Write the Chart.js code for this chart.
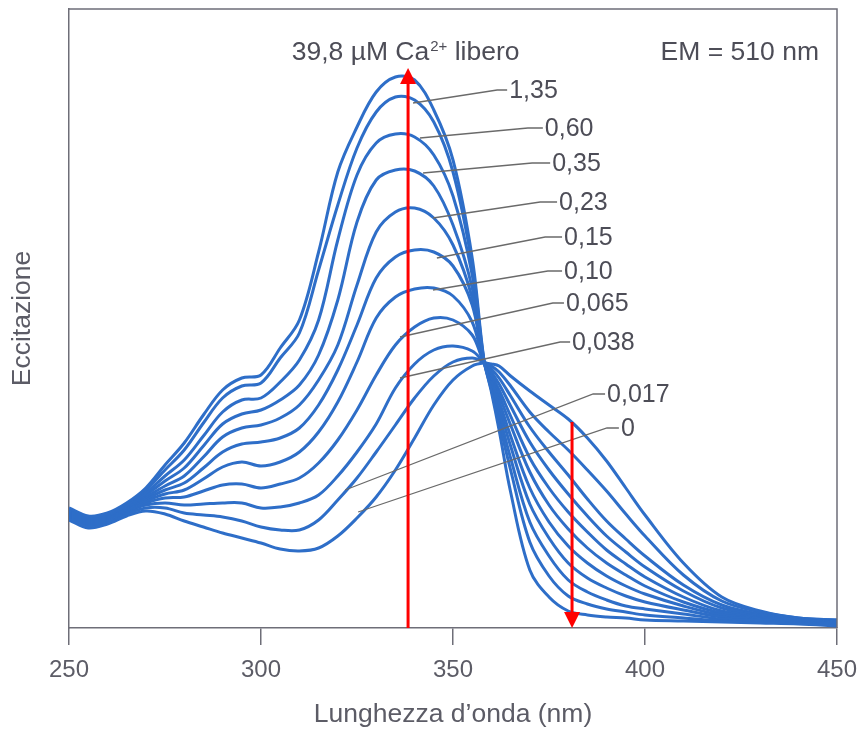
<!DOCTYPE html>
<html>
<head>
<meta charset="utf-8">
<script src="https://cdn.jsdelivr.net/npm/chart.js@4.4.1/dist/chart.umd.min.js"></script>
<style>
  html, body { margin: 0; padding: 0; background: #fff; }
  canvas { display: block; }
</style>
</head>
<body>
<canvas id="c" width="860" height="730"></canvas>
<script>
// DATA (excitation, arbitrary units)
const wavelengths = [250, 255, 260, 265, 270, 275, 280, 285, 290, 295, 300, 305, 310, 315, 320, 325, 330, 335, 340, 345, 350, 355, 358, 360, 362, 365, 370, 375, 380, 385, 390, 395, 400, 410, 420, 430, 440, 450]

const ca398 = [120, 112, 115, 125, 140, 163, 185, 213, 238, 250, 253, 280, 308, 376, 456, 501, 536, 551, 548, 518, 468, 370, 270, 236, 198, 136, 58, 31, 17, 13, 11, 10, 8, 7, 6, 5, 4, 2]
const ca135 = [119, 111, 114, 123, 138, 158, 178, 205, 230, 242, 245, 270, 295, 358, 423, 480, 516, 531, 528, 506, 456, 363, 269, 238, 206, 158, 86, 52, 32, 24, 19, 16, 13, 10, 7, 6, 5, 3]
const ca060 = [118, 110, 113, 122, 135, 152, 168, 192, 216, 228, 230, 246, 268, 308, 388, 453, 485, 494, 491, 473, 432, 353, 268, 242, 214, 170, 106, 72, 48, 36, 28, 22, 19, 14, 9, 8, 6, 4]
const ca035 = [117, 109, 112, 121, 133, 147, 160, 182, 204, 214, 218, 228, 243, 273, 328, 406, 448, 458, 457, 442, 403, 340, 267, 245, 221, 182, 124, 90, 65, 50, 40, 32, 26, 18, 11, 9, 7, 4]
const ca023 = [116, 108, 111, 120, 131, 142, 152, 171, 191, 200, 203, 210, 223, 248, 283, 343, 396, 416, 420, 410, 383, 330, 267, 248, 227, 192, 140, 106, 82, 65, 52, 42, 34, 22, 13, 10, 8, 5]
const ca015 = [115, 107, 110, 119, 129, 138, 145, 160, 176, 184, 186, 190, 200, 223, 258, 303, 350, 371, 378, 376, 362, 323, 267, 251, 233, 203, 156, 123, 99, 80, 65, 53, 42, 26, 15, 11, 8, 5]
const ca010 = [114, 106, 109, 118, 127, 134, 138, 149, 161, 166, 162, 166, 176, 196, 226, 266, 310, 331, 339, 340, 332, 306, 266, 253, 238, 212, 170, 140, 116, 96, 78, 64, 51, 31, 17, 12, 8, 6]
const ca0065 = [113, 105, 108, 117, 125, 130, 131, 137, 143, 144, 140, 144, 150, 165, 188, 218, 253, 283, 301, 310, 308, 293, 266, 256, 244, 222, 186, 158, 134, 112, 92, 76, 61, 37, 20, 13, 9, 6]
const ca0038 = [112, 104, 107, 116, 123, 125, 123, 124, 125, 125, 120, 121, 125, 133, 152, 176, 204, 240, 264, 278, 282, 277, 266, 259, 250, 232, 201, 176, 153, 129, 107, 89, 72, 43, 23, 14, 9, 7]
const ca0017 = [110, 102, 106, 114, 120, 120, 115, 113, 111, 107, 101, 98, 98, 108, 128, 150, 176, 203, 230, 252, 266, 270, 266, 262, 256, 242, 216, 196, 178, 158, 137, 114, 92, 53, 27, 16, 10, 8]
const ca0 = [108, 100, 104, 112, 117, 114, 107, 101, 95, 90, 85, 79, 77, 80, 92, 110, 131, 158, 190, 223, 248, 262, 265, 264, 262, 252, 237, 223, 209, 190, 167, 140, 113, 65, 31, 17, 10, 8]

const series = [ca398, ca135, ca060, ca035, ca023, ca015, ca010, ca0065, ca0038, ca0017, ca0]
const concLabels = ["39,8", "1,35", "0,60", "0,35", "0,23", "0,15", "0,10", "0,065", "0,038", "0,017", "0"]
const xTicks = [250, 300, 350, 400, 450]

// leader lines for the labels 1,35 ... 0 (nm, excitation)
const leaderFrom = [[339.6, 525], [341.4, 490], [342.2, 455], [344.8, 410], [345.8, 370], [344.8, 338], [336.2, 291], [336.2, 250], [321.9, 138], [325.3, 116]]
const leaderBend = [[361.5, 538], [369.5, 500], [370.6, 465], [372.7, 426], [374.0, 391], [374.7, 357], [376.0, 325], [377.9, 286], [386.5, 234], [390.1, 200]]
const leaderTo = [[364.1, 538], [373.4, 500], [375.3, 465], [377.1, 426], [378.4, 391], [378.4, 357], [378.9, 325], [380.5, 286], [389.6, 234], [393.2, 200]]

const topLabelAt = [308, 568]
const emLabelAt = [445.3, 568]
const arrowUp = { x: 338.3, from: 0, to: 560 }
const arrowDown = { x: 381, from: 206, to: 0 }

// STYLE
const FONT = "'Liberation Sans', Arial, sans-serif"
const BLUE = "#2e6ec8"
const AXIS = "#6e6e78"
const TEXT = "#4d4d57"

Chart.defaults.font.family = FONT

const datasets = series.map((vals, i) => ({
  label: concLabels[i],
  data: wavelengths.map((w, j) => ({ x: w, y: vals[j] })),
  borderColor: BLUE,
  borderWidth: 3,
  pointRadius: 0,
  fill: false,
  tension: 0.35,
}))

function arrow(ctx, x, y0, y1) {
  const dir = y1 < y0 ? -1 : 1
  const head = 16
  ctx.beginPath()
  ctx.moveTo(x, y0)
  ctx.lineTo(x, y1 - dir * head)
  ctx.stroke()
  ctx.beginPath()
  ctx.moveTo(x, y1)
  ctx.lineTo(x - 8, y1 - dir * head)
  ctx.lineTo(x + 8, y1 - dir * head)
  ctx.closePath()
  ctx.fill()
}

const overlay = {
  id: "overlay",
  afterDatasetsDraw(chart) {
    const { ctx, chartArea: a } = chart
    const sx = chart.scales.x, sy = chart.scales.y
    const px = (v) => sx.getPixelForValue(v)
    const py = (v) => sy.getPixelForValue(v)
    ctx.save()

    // frame top and right
    ctx.strokeStyle = AXIS
    ctx.lineWidth = 1.5
    ctx.beginPath()
    ctx.moveTo(a.left, a.top)
    ctx.lineTo(a.right, a.top)
    ctx.lineTo(a.right, a.bottom)
    ctx.stroke()

    // leader lines + labels
    ctx.strokeStyle = "#6a6a6a"
    ctx.lineWidth = 1.3
    ctx.fillStyle = TEXT
    ctx.font = "25px " + FONT
    ctx.textBaseline = "middle"
    ctx.textAlign = "left"
    leaderFrom.forEach((p, i) => {
      ctx.beginPath()
      ctx.moveTo(px(p[0]), py(p[1]))
      ctx.lineTo(px(leaderBend[i][0]), py(leaderBend[i][1]))
      ctx.lineTo(px(leaderTo[i][0]), py(leaderTo[i][1]))
      ctx.stroke()
      ctx.fillText(concLabels[i + 1], px(leaderTo[i][0]) + 2, py(leaderTo[i][1]) + 1)
    })

    // top label: 39,8 µM Ca2+ libero
    ctx.textBaseline = "alphabetic"
    ctx.font = "26.5px " + FONT
    let tx = px(topLabelAt[0])
    const ty = py(topLabelAt[1])
    const part1 = concLabels[0] + " µM Ca"
    ctx.fillText(part1, tx, ty)
    tx += ctx.measureText(part1).width + 1
    ctx.font = "15px " + FONT
    ctx.fillText("2+", tx, ty - 9)
    tx += ctx.measureText("2+").width
    ctx.font = "26.5px " + FONT
    ctx.fillText(" libero", tx, ty)

    // EM label
    ctx.textAlign = "right"
    ctx.font = "26.5px " + FONT
    ctx.fillText("EM = 510 nm", px(emLabelAt[0]), py(emLabelAt[1]))

    // red arrows
    ctx.strokeStyle = "#ff0000"
    ctx.fillStyle = "#ff0000"
    ctx.lineWidth = 3
    arrow(ctx, px(arrowUp.x), py(arrowUp.from), py(arrowUp.to))
    arrow(ctx, px(arrowDown.x), py(arrowDown.from), py(arrowDown.to))

    ctx.restore()
  },
}

new Chart(document.getElementById("c").getContext("2d"), {
  type: "line",
  data: { datasets },
  options: {
    responsive: false,
    animation: false,
    devicePixelRatio: 1,
    layout: { padding: { left: 0, top: 9, right: 23, bottom: 0 } },
    plugins: { legend: { display: false }, tooltip: { enabled: false } },
    scales: {
      x: {
        type: "linear",
        min: 250,
        max: 450,
        afterBuildTicks: (s) => { s.ticks = xTicks.map((v) => ({ value: v })) },
        ticks: { color: "#5c5c66", font: { size: 24 }, padding: 11, maxRotation: 0 },
        grid: { drawOnChartArea: false, drawTicks: true, tickLength: 17, color: AXIS, lineWidth: 1.5 },
        border: { display: true, color: AXIS, width: 1.5 },
        title: {
          display: true,
          text: "Lunghezza d’onda (nm)",
          color: "#5c5c66",
          font: { size: 26.5, lineHeight: 1 },
          padding: { top: 0, bottom: 2 },
        },
        afterFit: (s) => {
          s.height = 102
          s.paddingLeft = 0
          s.paddingRight = 0
        },
      },
      y: {
        min: 0,
        max: 619,
        ticks: { display: false },
        grid: { display: false, drawTicks: false },
        border: { display: true, color: AXIS, width: 1.5 },
        title: {
          display: true,
          text: "Eccitazione",
          color: "#5c5c66",
          font: { size: 26.5, lineHeight: 1 },
          padding: { top: 9, bottom: 0 },
        },
        afterFit: (s) => { s.width = 69 },
      },
    },
  },
  plugins: [overlay],
})
</script>
</body>
</html>
